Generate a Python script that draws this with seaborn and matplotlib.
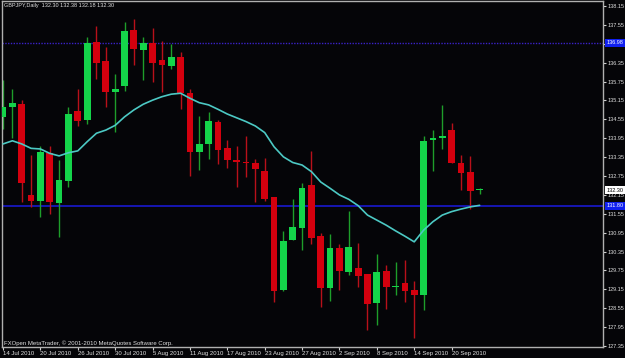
import numpy as np
import pandas as pd
import matplotlib
matplotlib.use('Agg')
import matplotlib.pyplot as plt
import matplotlib.transforms as mtransforms
import seaborn as sns

# GBPJPY daily bars, 14 Jul 2010 .. 23 Sep 2010
opens = [134.61, 134.95, 135.04, 132.15, 131.96, 133.49, 131.90, 132.60, 134.82, 134.53,
         137.01, 136.40, 135.41, 135.62, 137.40, 136.75, 136.99, 136.43, 136.25, 136.52,
         135.38, 133.52, 133.76, 134.47, 133.63, 133.25, 133.19, 133.16, 132.92, 132.07,
         129.13, 130.72, 131.09, 132.45, 130.84, 129.18, 130.48, 129.71, 129.83, 129.64,
         128.73, 129.73, 129.21, 129.34, 129.13, 128.97, 133.88, 133.95, 134.21, 133.18,
         132.88, 132.30]
highs = [135.80, 135.50, 135.16, 133.42, 133.71, 133.71, 133.26, 134.95, 135.53, 137.18,
         137.51, 136.86, 135.99, 137.64, 137.74, 137.18, 137.45, 137.05, 136.96, 136.70,
         135.50, 134.66, 134.77, 134.53, 133.89, 133.71, 134.02, 133.28, 133.31, 132.09,
         131.00, 132.01, 132.52, 133.55, 130.93, 130.90, 130.58, 131.65, 130.63, 129.64,
         130.27, 129.94, 130.02, 130.08, 129.41, 134.02, 134.21, 135.01, 134.44, 133.42,
         133.40, 132.38]
lows = [134.26, 133.95, 131.93, 131.78, 131.44, 131.56, 130.80, 132.39, 134.35, 134.40,
        135.82, 134.93, 134.16, 135.46, 136.28, 135.80, 135.75, 135.43, 136.15, 134.88,
        132.76, 132.94, 133.29, 133.12, 133.01, 132.41, 132.73, 131.93, 131.96, 128.74,
        129.11, 130.72, 130.40, 130.59, 128.60, 128.79, 129.13, 129.61, 129.23, 127.86,
        128.02, 128.52, 128.97, 128.74, 127.61, 128.51, 132.92, 133.61, 133.15, 132.30,
        131.70, 132.18]
closes = [134.93, 135.07, 132.54, 131.96, 133.51, 131.91, 132.62, 134.71, 134.51, 136.99,
          136.35, 135.43, 135.52, 137.36, 136.78, 136.99, 136.35, 136.28, 136.52, 135.38,
          133.52, 133.77, 134.50, 133.58, 133.25, 133.21, 133.15, 132.97, 132.02, 129.11,
          130.70, 131.12, 132.36, 130.77, 129.18, 130.46, 129.74, 130.49, 129.57, 128.70,
          129.71, 129.23, 129.26, 129.10, 128.98, 133.87, 133.97, 134.02, 133.15, 132.86,
          132.27, 132.30]
ma = [133.77, 133.87, 133.77, 133.63, 133.61, 133.47, 133.39, 133.49, 133.55, 133.84,
      134.11, 134.21, 134.36, 134.63, 134.85, 135.03, 135.16, 135.27, 135.35, 135.38,
      135.22, 135.08, 135.01, 134.87, 134.72, 134.60, 134.48, 134.34, 134.13, 133.68,
      133.36, 133.18, 133.10, 132.89, 132.56, 132.36, 132.15, 132.01, 131.81, 131.51,
      131.35, 131.19, 131.01, 130.84, 130.66, 131.03, 131.30, 131.51, 131.62, 131.70,
      131.77, 131.82]

date_labels = ['14 Jul 2010', '20 Jul 2010', '26 Jul 2010', '30 Jul 2010', '5 Aug 2010',
               '11 Aug 2010', '17 Aug 2010', '23 Aug 2010', '27 Aug 2010', '2 Sep 2010',
               '8 Sep 2010', '14 Sep 2010', '20 Sep 2010']
price_ticks = [127.35, 127.95, 128.55, 129.15, 129.75, 130.35, 130.95, 131.55, 132.15,
               132.75, 133.35, 133.95, 134.55, 135.15, 135.75, 136.35, 136.95, 137.55, 138.15]
support_level = 131.80
resist_level = 136.98
last_price = 132.30

df = pd.DataFrame({'open': opens, 'high': highs, 'low': lows, 'close': closes, 'ma': ma})
df['idx'] = np.arange(len(df))
df['up'] = df['close'] >= df['open']

sns.set_theme(style='dark', rc={'axes.facecolor': '#050508', 'figure.facecolor': '#050508'})
plt.rcParams['font.family'] = ['Liberation Sans Narrow', 'Liberation Sans', 'DejaVu Sans']
fs_price = 4.0
fs_date = 4.3
fs_title = 4.0
fs_foot = 4.3

fig = plt.figure(figsize=(6.25, 3.58), dpi=100)
ax = fig.add_axes([2 / 625, 1 - 347 / 358, 601 / 625, 346 / 358])
ax.set_facecolor('#050508')

green, red = '#14d44a', '#d4000e'
green_wick, red_wick = '#1e9e2a', '#b8101a'

# wicks
for up, sub in df.groupby('up'):
    ax.vlines(sub['idx'], sub['low'], sub['high'], color=green_wick if up else red_wick,
              lw=1, zorder=2)

# bodies
body_bottom = df[['open', 'close']].min(axis=1)
body_height = (df['close'] - df['open']).abs().clip(lower=0.035)
ax.bar(df['idx'], body_height, bottom=body_bottom, width=0.72,
       color=np.where(df['up'], green, red), linewidth=0, zorder=3)

sns.lineplot(data=df, x='idx', y='ma', ax=ax, color='#4cc9c4', lw=1.2, zorder=4)

ax.axhline(support_level, color='#1a1ae0', lw=1.1, zorder=1)
ax.axhline(resist_level, color='#3a22c8', lw=1, ls=(0, (1, 1)), zorder=1)

ax.set_xlim(-0.11, 64.2)
ax.set_ylim(127.32, 138.31)
ax.set_xlabel('')
ax.set_ylabel('')

ax.yaxis.tick_right()
ax.set_yticks(price_ticks)
ax.set_yticklabels([f'{p:.2f}' for p in price_ticks])
ax.set_xticks(np.arange(0, 4 * len(date_labels), 4))
ax.set_xticklabels(date_labels)
for lbl in ax.get_xticklabels():
    lbl.set_horizontalalignment('left')
ax.tick_params(axis='both', colors='#d0d0d0', length=2.2, width=0.8,
               direction='out', pad=0.8, right=True, bottom=True, left=False)
ax.tick_params(axis='y', labelcolor='#e0e0e0', labelsize=fs_price)
ax.tick_params(axis='x', labelcolor='#e0e0e0', labelsize=fs_date)
ax.grid(False)
for s in ax.spines.values():
    s.set_color('#b0b0b0')
    s.set_linewidth(1)
    s.set_visible(True)

trans = mtransforms.blended_transform_factory(ax.transAxes, ax.transData)
boxes = [(resist_level, '136.98', '#1020f0', 'white'),
         (last_price, '132.30', 'white', 'black'),
         (support_level, '131.80', '#1020f0', 'white')]
for price, txt, fc, tc in boxes:
    ax.text(1.006, price, txt, transform=trans, fontsize=fs_price, color=tc, va='center', ha='left',
            bbox=dict(boxstyle='square,pad=0.3', fc=fc, ec='none'), zorder=10, clip_on=False)

fig.text(4 / 625, 1 - 6 / 358, 'GBPJPY,Daily  132.30 132.38 132.18 132.30',
         color='#e0e0e0', fontsize=fs_title, va='center', ha='left')
fig.text(4 / 625, 1 - 343 / 358, 'FXOpen MetaTrader, \u00a9 2001-2010 MetaQuotes Software Corp.',
         color='#e0e0e0', fontsize=fs_foot, va='center', ha='left')

fig.savefig('out.png', dpi=100, facecolor='#050508')
